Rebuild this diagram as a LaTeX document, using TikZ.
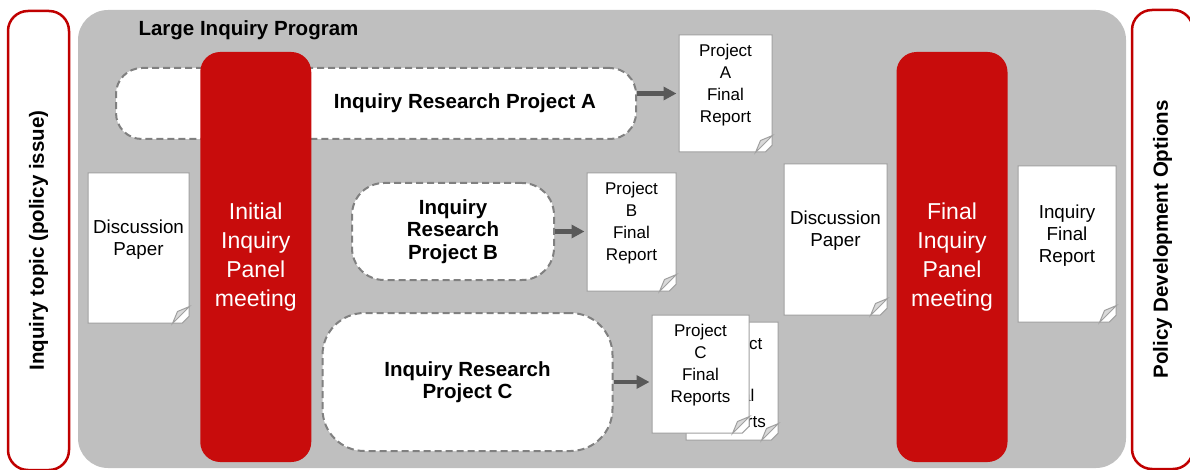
\documentclass[tikz,border=0pt]{standalone}
\usepackage{fontspec}
\setmainfont{Liberation Sans}
\usetikzlibrary{shapes.misc, arrows.meta, positioning}

\definecolor{edgered}{RGB}{192,0,0}
\definecolor{panelred}{RGB}{200,12,12}
\definecolor{bggray}{RGB}{191,191,191}
\definecolor{dashgray}{RGB}{128,128,128}
\definecolor{arrowgray}{RGB}{89,89,89}
\definecolor{paperedge}{RGB}{160,160,160}
\definecolor{foldgray}{RGB}{217,217,217}

\begin{document}
\begin{tikzpicture}[x=1pt, y=-1pt,
    sidebox/.style={draw=edgered, line width=2.5pt, fill=white, rounded corners=20pt, rotate=90,
        minimum width=459pt, minimum height=61pt, font=\fontsize{20.5}{24}\selectfont\bfseries},
    panel/.style={fill=panelred, text=white, rounded corners=20pt, minimum width=111pt,
        minimum height=410pt, align=center, font=\fontsize{23}{29}\selectfont},
    project/.style={draw=dashgray, dash pattern=on 7pt off 4pt, line width=2pt, fill=white,
        align=center, font=\fontsize{20.5}{22.5}\selectfont\bfseries},
    paper/.style={chamfered rectangle, chamfered rectangle corners=south east,
        chamfered rectangle xsep=17pt, chamfered rectangle ysep=17pt,
        draw=paperedge, line width=1pt, fill=white},
    papertext/.style={align=center, yshift=8.5pt, font=\fontsize{17}{22}\selectfont},
    bigpapertext/.style={papertext, font=\fontsize{18.8}{22}\selectfont},
    fold/.style={draw=paperedge, line width=1pt, fill=foldgray},
    result/.style={-{Triangle[length=13pt, width=13pt]}, arrowgray, line width=4.5pt, shorten >=2pt}
]
    \useasboundingbox (0,0) rectangle (1190,470);
    % side boxes
    \node[sidebox] (topic) at (38.5,240.5) {Inquiry topic (policy issue)};
    \node[sidebox] (options) at (1162.5,239.5) {Policy Development Options};
    % program background
    \node[fill=bggray, rounded corners=30pt, minimum width=1048pt, minimum height=458pt] (program) at (602,239) {};
    \node[anchor=west, font=\fontsize{20.5}{24}\selectfont\bfseries] (title) at (135,30) {Large Inquiry Program};
    % project A (under the panel)
    \node[project, rounded corners=26pt, minimum width=520pt, minimum height=71pt] (prjA) at (376,103.5) {};
    % panel meetings
    \node[panel] (initpanel) at (255.75,257) {Initial\\Inquiry\\Panel\\meeting};
    \node[panel] (finalpanel) at (952,257) {Final\\Inquiry\\Panel\\meeting};
    % project texts and boxes
    \node[font=\fontsize{20.5}{22.5}\selectfont\bfseries] (prjAtext) at (465,103) {Inquiry Research Project A};
    \node[project, rounded corners=32pt, minimum width=202pt, minimum height=97pt] (prjB) at (453,231.5) {Inquiry\\Research\\Project B};
    \node[project, rounded corners=42pt, minimum width=290pt, minimum height=138pt] (prjC) at (467.5,382) {Inquiry Research\\Project C};
    % papers
    \node[paper, minimum width=101pt, minimum height=150pt, label={[bigpapertext]center:Discussion\\Paper}] (dp1) at (138.5,248) {};
    \node[paper, minimum width=93pt, minimum height=117pt, label={[papertext]center:Project\\A\\Final\\Report}] (docA) at (725.5,93.5) {};
    \node[paper, minimum width=89pt, minimum height=118pt, label={[papertext]center:Project\\B\\Final\\Report}] (docB) at (631.5,232) {};
    \node[paper, minimum width=92pt, minimum height=118pt, label={[papertext, xshift=4pt, yshift=-12pt, font=\fontsize{17}{26}\selectfont]center:Project\\C\\Final\\Reports}] (docCback) at (732,381) {};
    \node[paper, minimum width=97pt, minimum height=118pt, label={[papertext]center:Project\\C\\Final\\Reports}] (docC) at (700.5,374) {};
    \node[paper, minimum width=103pt, minimum height=151pt, label={[bigpapertext]center:Discussion\\Paper}] (dp2) at (835.5,239.5) {};
    \node[paper, minimum width=98pt, minimum height=156pt, label={[bigpapertext]center:Inquiry\\Final\\Report}] (docF) at (1067,244) {};
    % folded corners
    \foreach \d in {dp1, docA, docB, docCback, docC, dp2, docF}
        \filldraw[fold] ([yshift=17pt]\d.south -| \d.east) -- ([xshift=-17pt]\d.south -| \d.east)
            -- ([xshift=-12pt, yshift=12pt]\d.south -| \d.east) -- cycle;
    % arrows to reports
    \draw[result] (prjA.east |- docA.west) -- (docA.west);
    \draw[result] (prjB.east) -- (prjB.east -| docB.west);
    \draw[result] (prjC.east) -- (prjC.east -| docC.west);
\end{tikzpicture}
\end{document}
